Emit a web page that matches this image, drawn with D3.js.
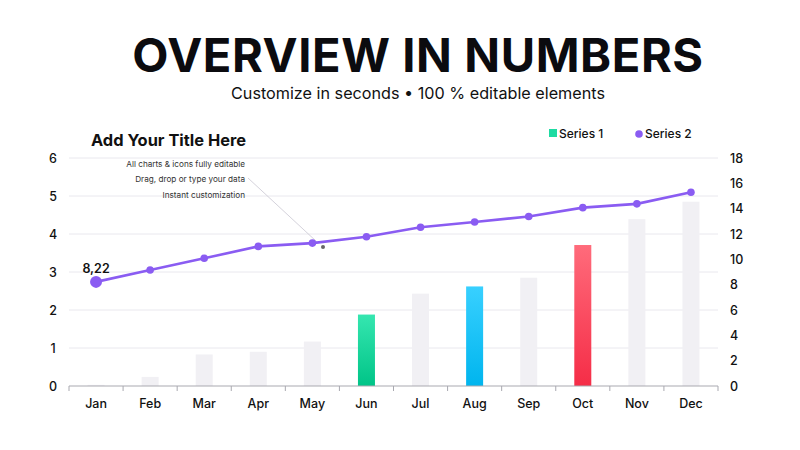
<!DOCTYPE html>
<html><head><meta charset="utf-8">
<script src="https://cdn.jsdelivr.net/npm/d3@7"></script>
<style>body{margin:0;background:#fff}svg{display:block}</style>
</head><body>
<svg id="c" width="800" height="450"></svg>
<script>
const months = ["Jan","Feb","Mar","Apr","May","Jun","Jul","Aug","Sep","Oct","Nov","Dec"];
const series1 = [0.03,0.24,0.83,0.9,1.17,1.88,2.43,2.62,2.85,3.71,4.39,4.85];
const series2 = [8.22,9.16,10.08,11.02,11.28,11.78,12.53,12.95,13.38,14.08,14.38,15.3];
const leftTicks = [0,1,2,3,4,5,6];
const rightTicks = [0,2,4,6,8,10,12,14,16,18];
const highlight = {Jun:"green", Aug:"blue", Oct:"red"};
const notes = ["All charts & icons fully editable","Drag, drop or type your data","Instant customization"];

const svg = d3.select("#c");
const font = "Inter, 'Noto Sans', sans-serif";
const defs = svg.append("defs");
[["green","#35e6b0","#00c487"],["blue","#38d0ff","#00b5ee"],["red","#ff6b7b","#f52d47"]].forEach(([id,a,b])=>{
  const g = defs.append("linearGradient").attr("id",id).attr("x1",0).attr("y1",0).attr("x2",0).attr("y2",1);
  g.append("stop").attr("offset","0%").attr("stop-color",a);
  g.append("stop").attr("offset","100%").attr("stop-color",b);
});

const x = d3.scaleBand().domain(months).range([69,718]).paddingInner(0).paddingOuter(0);
const yL = d3.scaleLinear().domain([0,6]).range([386,158]);
const yR = d3.scaleLinear().domain([0,18]).range([386,158]);

// titles
svg.append("text").attr("x",418).attr("y",72).attr("text-anchor","middle")
  .attr("font-family",font).attr("font-weight",700).attr("font-size",47).attr("fill","#0b0b0f")
  .attr("letter-spacing",0.6).text("OVERVIEW IN NUMBERS");
svg.append("text").attr("x",418).attr("y",99).attr("text-anchor","middle")
  .attr("font-family",font).attr("font-weight",400).attr("font-size",16.2).attr("fill","#111")
  .text("Customize in seconds \u2022 100 % editable elements");
svg.append("text").attr("x",91).attr("y",146).attr("font-family",font).attr("font-weight",700)
  .attr("font-size",16.4).attr("fill","#111").text("Add Your Title Here");

// grid
svg.append("g").selectAll("line").data(leftTicks.filter(d=>d>0)).join("line")
  .attr("x1",69).attr("x2",718).attr("y1",d=>yL(d)).attr("y2",d=>yL(d))
  .attr("stroke","#e9e8ee").attr("stroke-width",1);

// bars
svg.append("g").selectAll("rect").data(months).join("rect")
  .attr("x",d=>x(d)+x.bandwidth()/2-8.5).attr("width",17)
  .attr("y",(d,i)=>yL(series1[i])).attr("height",(d,i)=>yL(0)-yL(series1[i]))
  .attr("fill",d=>highlight[d]?`url(#${highlight[d]})`:"#f1f0f4");

// bottom axis
const xa = svg.append("g").attr("transform","translate(0,386)");
xa.append("line").attr("x1",69).attr("x2",718).attr("stroke","#a9a9b0").attr("stroke-width",1);
xa.selectAll("line.t").data(d3.range(13)).join("line").attr("class","t")
  .attr("x1",i=>69+i*x.bandwidth()).attr("x2",i=>69+i*x.bandwidth()).attr("y1",0).attr("y2",5)
  .attr("stroke","#a9a9b0");
xa.selectAll("text").data(months).join("text").attr("x",d=>x(d)+x.bandwidth()/2).attr("y",22)
  .attr("text-anchor","middle").attr("font-family",font).attr("font-weight",500).attr("font-size",12.5)
  .attr("fill","#111").text(d=>d);

// left / right axis labels
svg.append("g").selectAll("text").data(leftTicks).join("text").attr("x",53).attr("y",d=>yL(d)+4.5)
  .attr("text-anchor","middle").attr("font-family",font).attr("font-weight",500).attr("font-size",12.5)
  .attr("fill","#111").text(d=>d);
svg.append("g").selectAll("text").data(rightTicks).join("text").attr("x",730).attr("y",d=>yR(d)+4.5)
  .attr("text-anchor","start").attr("font-family",font).attr("font-weight",500).attr("font-size",12.5)
  .attr("fill","#111").text(d=>d);

// annotations
svg.append("g").selectAll("text").data(notes).join("text").attr("x",245).attr("y",(d,i)=>167+i*15.3)
  .attr("text-anchor","end").attr("font-family",font).attr("font-size",8.2).attr("fill","#333").text(d=>d);
svg.append("line").attr("x1",248).attr("y1",178).attr("x2",317).attr("y2",242)
  .attr("stroke","#c9c6d2").attr("stroke-width",0.8);
svg.append("circle").attr("cx",323).attr("cy",247).attr("r",2).attr("fill","#666");

// line
const lineColor = "#8a5cf2";
const line = d3.line().x((d,i)=>x(months[i])+x.bandwidth()/2).y(d=>yR(d));
svg.append("path").datum(series2).attr("d",line).attr("fill","none").attr("stroke",lineColor).attr("stroke-width",2.6);
svg.append("g").selectAll("circle").data(series2).join("circle")
  .attr("cx",(d,i)=>x(months[i])+x.bandwidth()/2).attr("cy",d=>yR(d)).attr("r",(d,i)=>i===0?6:3.8)
  .attr("fill",lineColor);
svg.append("text").attr("x",x("Jan")+x.bandwidth()/2).attr("y",yR(series2[0])-9).attr("text-anchor","middle")
  .attr("font-family",font).attr("font-weight",600).attr("font-size",12.5).attr("fill","#111")
  .text(String(series2[0]).replace(".",","));

// legend
svg.append("rect").attr("x",549).attr("y",129).attr("width",8).attr("height",8).attr("fill","#1edba2");
svg.append("text").attr("x",559).attr("y",138).attr("font-family",font).attr("font-weight",500)
  .attr("font-size",12).attr("fill","#111").text("Series 1");
svg.append("circle").attr("cx",639).attr("cy",134).attr("r",3.8).attr("fill",lineColor);
svg.append("text").attr("x",645).attr("y",138).attr("font-family",font).attr("font-weight",500)
  .attr("font-size",12).attr("fill","#111").text("Series 2");
</script>
</body></html>
